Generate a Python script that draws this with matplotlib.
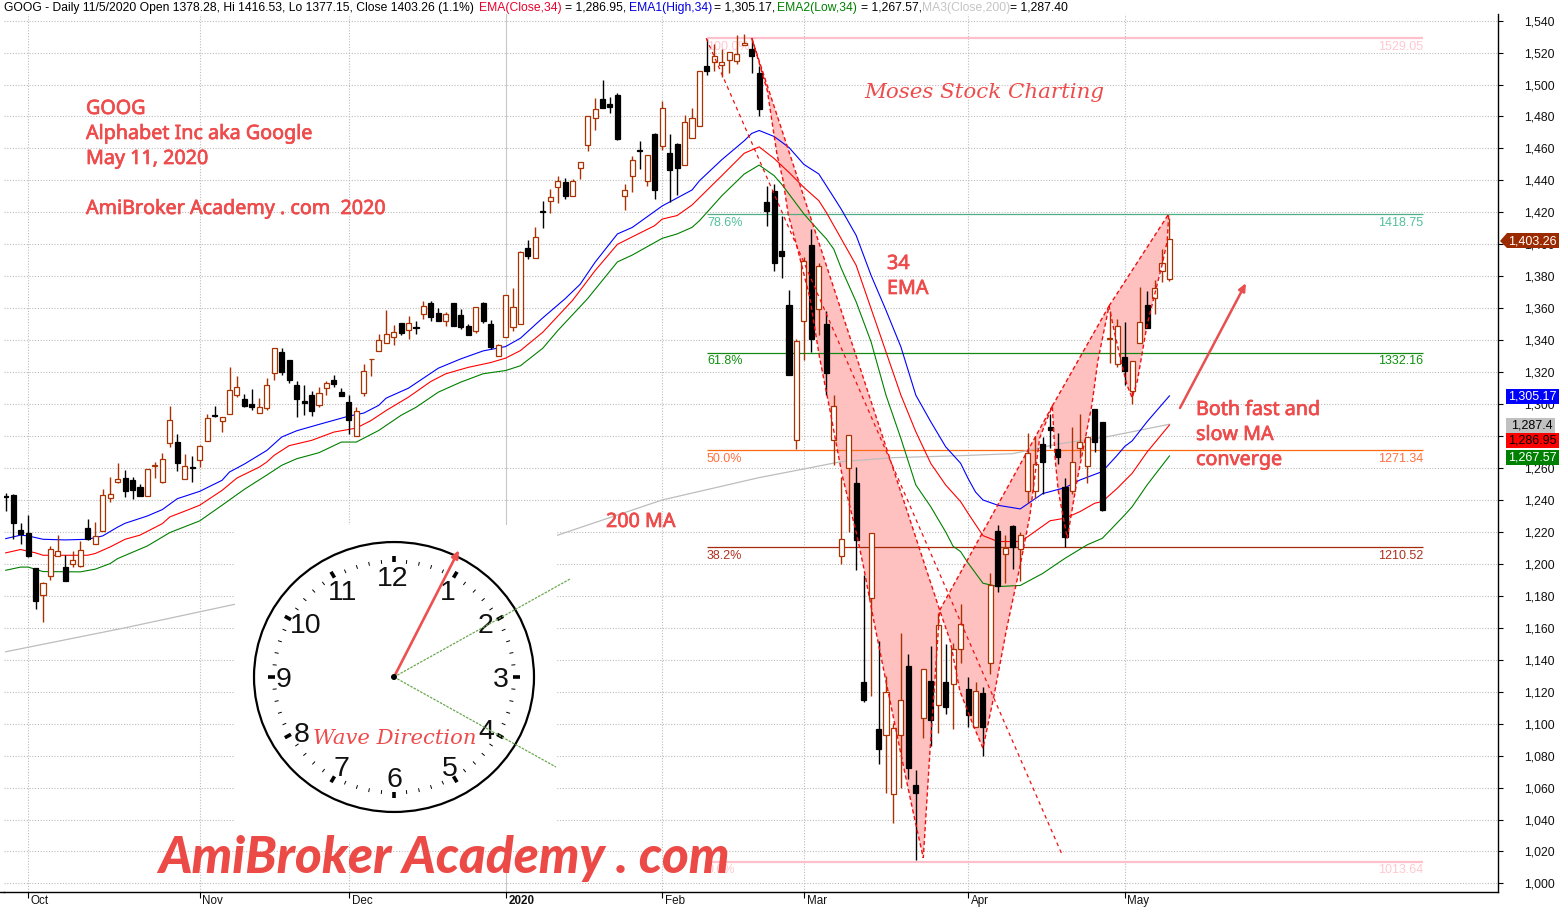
import numpy as np
import matplotlib
matplotlib.use("Agg")
import matplotlib.pyplot as plt
import matplotlib.patheffects as pe
from matplotlib.patches import Circle, Ellipse, Rectangle, Polygon

W, H = 1559, 908

# daily bars, bar 0 is the last days of Sep 2019
opens = [1242.5, 1243.3, 1221.5, 1219.6, 1197.7, 1180.4, 1192.5, 1205, 1198.3, 1200, 1198.5, 1222.5, 1212.5, 1220.6, 1241.3, 1251,
         1253.8, 1252.5, 1248.1, 1242.5, 1261, 1251, 1275.6, 1276.3, 1253, 1260.8, 1265, 1276.9, 1293, 1289.4, 1294, 1305.4,
         1303.3, 1300, 1294.4, 1297.5, 1319.4, 1332.5, 1327.7, 1311.9, 1302, 1305.6, 1299.2, 1310, 1315, 1307.5, 1301.3, 1280,
         1306.7, 1328, 1333.5, 1338, 1341.9, 1350.6, 1346.25, 1348.1, 1356.25, 1363.3, 1356.9, 1351.9, 1363, 1355.8, 1348.75, 1346,
         1363, 1350.2, 1329.8, 1341.7, 1348.1, 1350, 1398, 1391.7, 1420.6, 1427.3, 1436, 1438.75, 1430, 1447.5, 1462.3, 1478.75,
         1490.8, 1487.7, 1493.3, 1430.4, 1443, 1458.75, 1439.8, 1469, 1461.7, 1457, 1462.7, 1449.8, 1466.7, 1474, 1511.5, 1514.4,
         1512.3, 1515.6, 1514.8, 1525, 1522, 1507.5, 1426.5, 1433.3, 1396, 1362, 1277.5, 1352, 1399.8, 1359.6, 1350.4, 1277.5,
         1205, 1260, 1250.4, 1126, 1178.75, 1096.5, 1092.9, 1056, 1092.9, 1135.8, 1061.5, 1103.5, 1126.5, 1111.7, 1125.8, 1124.8,
         1146.9, 1122, 1097.9, 1119, 1137.9, 1220.8, 1206.25, 1224, 1209.6, 1245.8, 1245.8, 1274.8, 1285.4, 1271.9, 1248, 1245.8,
         1272.3, 1261.5, 1296.7, 1288.5, 1341, 1325.2, 1329.2, 1308.3, 1338.3, 1362.3, 1366.5, 1383.3, 1378.28]
highs = [1244.6, 1243.8, 1225.8, 1230.8, 1197.7, 1188.8, 1211.3, 1218.3, 1205.4, 1208.3, 1214.6, 1228.3, 1226.3, 1247, 1254.6, 1263.3,
         1259, 1254.6, 1250, 1259.4, 1263.8, 1269.6, 1299, 1281.5, 1269, 1267.7, 1274.6, 1293.8, 1299, 1291.7, 1323.3, 1317.5,
         1306.5, 1309.6, 1304, 1316.3, 1335, 1335.2, 1327.7, 1314.4, 1312, 1308, 1310.6, 1314.4, 1318.3, 1310.2, 1305.6, 1298,
         1325.2, 1328.3, 1343.75, 1359, 1349.6, 1350.6, 1355, 1352.3, 1364.6, 1364.6, 1360, 1357.5, 1363, 1359.6, 1350, 1360.6,
         1363.75, 1352.7, 1337.5, 1368, 1372.6, 1396, 1402.5, 1410.6, 1427, 1434.4, 1443, 1441.5, 1440.6, 1451.25, 1480, 1491.5,
         1502.7, 1492.5, 1494.4, 1437.5, 1455, 1464.4, 1455.6, 1469.6, 1489.4, 1469, 1463.3, 1481.25, 1485.2, 1508.3, 1528.3, 1525.4,
         1522.5, 1520.6, 1530.8, 1531.5, 1528.3, 1511.7, 1436.5, 1437.7, 1418, 1371.7, 1341, 1392, 1409.8, 1388, 1358.3, 1306,
         1254.6, 1280.8, 1260.8, 1193.3, 1219.4, 1151.5, 1129.8, 1100.6, 1157, 1143.3, 1070.8, 1134.4, 1148.3, 1169.4, 1150, 1150.6,
         1174.6, 1129.2, 1126.25, 1122.9, 1194, 1224.6, 1218.3, 1224.6, 1220, 1282, 1280, 1279.4, 1294, 1281.7, 1254, 1285.4,
         1293.5, 1279.6, 1296.7, 1288.5, 1358, 1353, 1351.5, 1327, 1373.5, 1371, 1377.5, 1397.3, 1416.53]
lows = [1233, 1215.4, 1212.7, 1204, 1172, 1163.8, 1189.8, 1205, 1189, 1198, 1198, 1214.8, 1212.5, 1220.6, 1239, 1250.6,
        1241.7, 1240.8, 1242.3, 1242.5, 1254, 1250.4, 1273, 1258, 1253, 1251.5, 1260.8, 1276.9, 1292, 1282.7, 1294, 1304.6,
        1298, 1296.5, 1294.4, 1296, 1314.8, 1318, 1313.3, 1291.7, 1293.3, 1292.3, 1298.5, 1305.4, 1310.4, 1304.8, 1281.5, 1280,
        1305.2, 1317.3, 1333.5, 1338, 1336.7, 1343, 1340.8, 1344, 1353, 1351.7, 1351.7, 1349, 1349, 1347.3, 1343.5, 1344.8,
        1350.8, 1334.4, 1329.8, 1341.7, 1346, 1350, 1390.8, 1391.7, 1410.4, 1419.4, 1426, 1428.3, 1430, 1440.8, 1458.5, 1471.7,
        1485.4, 1482, 1465.4, 1421.7, 1432.9, 1447, 1436.7, 1428.3, 1459.2, 1426.7, 1430.8, 1449.8, 1466.7, 1474, 1505.8, 1508.5,
        1505, 1507.3, 1513, 1525, 1507.5, 1480.4, 1411.5, 1383, 1379, 1318, 1272, 1327.5, 1332.7, 1343.5, 1305.6, 1262,
        1200, 1220, 1196, 1113.5, 1117.3, 1074.6, 1056.5, 1037.7, 1060, 1065.6, 1014.8, 1091, 1086, 1094.2, 1105.8, 1096.5,
        1138, 1097.7, 1097.9, 1080, 1130.8, 1182.3, 1188, 1196.5, 1189, 1237.9, 1241, 1243.75, 1272.3, 1262.3, 1210.8, 1243.75,
        1266, 1250.4, 1269.8, 1233.1, 1326, 1323, 1311.9, 1300, 1338.3, 1347.5, 1356.25, 1376.5, 1377.15]
closes = [1242, 1225.4, 1219, 1205.2, 1176.7, 1188.3, 1209.4, 1208, 1189.2, 1202.5, 1208.5, 1215.4, 1217.3, 1243, 1243.8, 1253.1,
          1245.4, 1246, 1242.7, 1259.4, 1261.6, 1265.6, 1290, 1262.9, 1261, 1260, 1274, 1291.3, 1292.3, 1291.7, 1308.8, 1311,
          1299, 1298.5, 1298, 1311.9, 1335, 1320.4, 1315.2, 1302.9, 1301, 1295.4, 1306.7, 1313.5, 1312.7, 1304.8, 1289.8, 1295.4,
          1320.6, 1328.3, 1340.4, 1343.75, 1345, 1344.8, 1350.6, 1347.7, 1361.25, 1354.8, 1352.3, 1356.25, 1349, 1348.5, 1343.5, 1360.6,
          1351.9, 1335.6, 1336.7, 1368, 1360.6, 1395, 1392.9, 1404.4, 1420, 1429.4, 1439.4, 1430.4, 1439.4, 1451.25, 1480, 1484.4,
          1485.4, 1486, 1465.8, 1433.75, 1452.5, 1458.3, 1455.6, 1434, 1485.6, 1446.5, 1447.7, 1476.25, 1478.75, 1508.3, 1508.3, 1518,
          1514.4, 1520.6, 1519.4, 1526.25, 1518, 1484.8, 1421, 1388, 1393, 1318, 1339.6, 1389.6, 1341, 1386.5, 1319.2, 1299,
          1215.8, 1280.8, 1215, 1114.6, 1219.4, 1084, 1120, 1097, 1115, 1072, 1056.5, 1134.4, 1102.3, 1161.9, 1110.2, 1146.9,
          1162.5, 1105.2, 1120.6, 1097.9, 1186.9, 1186, 1210, 1210.8, 1218, 1269.6, 1262.7, 1263.75, 1283.75, 1266.9, 1216.9, 1264,
          1276.5, 1279.6, 1276.25, 1233.75, 1341.5, 1349, 1320.6, 1327, 1351.5, 1347.5, 1372.7, 1388.3, 1403.26]

blue_x = [0, 2, 3, 5, 8, 11, 13, 15, 16, 19, 21, 23, 26, 29, 30, 32, 35, 37, 39, 42, 46, 48, 50, 51, 54, 56, 58, 61, 64, 67, 69, 72,
          75, 77, 79, 82, 84, 88, 90, 92, 93, 96, 99, 100, 101, 103, 105, 107, 109, 111, 112, 114, 116, 118, 120, 122, 124, 126,
          128, 129, 130, 131, 133, 136, 139, 142, 144, 147, 149, 150, 151, 153, 156]
blue_y = [1215.8, 1218, 1217.5, 1215.4, 1215, 1215.4, 1217.5, 1223, 1225.4, 1230, 1234, 1240.8, 1245.4, 1252.3, 1257.5, 1262.5,
          1271, 1279.4, 1283.3, 1287.3, 1292.5, 1294.4, 1299.2, 1303.75, 1310, 1316.25, 1322.5, 1328.3, 1333.3, 1336, 1341.25, 1354,
          1366, 1375, 1388.75, 1406.5, 1410.6, 1424, 1429, 1434, 1439.8, 1453, 1464.8, 1469.4, 1471.25, 1467.5, 1460.6, 1450, 1444,
          1429.4, 1422, 1405.6, 1380.6, 1358.75, 1335.8, 1305.6, 1289, 1273.3, 1263, 1253.5, 1245, 1240, 1236.7, 1234.4, 1244,
          1247.7, 1252.5, 1257.8, 1268, 1273.5, 1277, 1289, 1305.17]
red_x = [0, 2, 4, 5, 11, 12, 14, 16, 18, 21, 22, 24, 26, 29, 31, 34, 35, 36, 38, 41, 44, 47, 49, 51, 54, 57, 59, 62, 65, 67, 69, 72,
         76, 79, 82, 87, 88, 90, 92, 96, 99, 101, 103, 105, 107, 109, 110, 112, 114, 116, 118, 120, 122, 124, 126, 128, 129, 131,
         133, 136, 137, 140, 142, 144, 146, 147, 149, 151, 153, 156]
red_y = [1206.9, 1209, 1206.9, 1205.4, 1205.4, 1206.5, 1210.6, 1215.4, 1218, 1225.2, 1229.4, 1233, 1236.7, 1246, 1253.75, 1260.6,
         1263.75, 1268, 1274, 1277.3, 1282.5, 1285, 1289.8, 1296, 1304.4, 1314.2, 1319, 1323, 1326, 1328.75, 1333.5, 1345, 1365,
         1383.5, 1400, 1411.7, 1415.8, 1418, 1424.6, 1443, 1457, 1461, 1453.75, 1445, 1435.6, 1427.3, 1420, 1403.5, 1386.9, 1359.8,
         1332.7, 1305.6, 1282.7, 1262.9, 1249.4, 1239, 1231.7, 1217.7, 1214, 1214, 1217, 1227, 1228.6, 1232.7, 1238, 1239, 1247.3,
         1256.7, 1270, 1286.95]
green_x = [0, 2, 3, 5, 10, 12, 14, 15, 19, 22, 26, 29, 32, 35, 37, 39, 42, 45, 47, 50, 53, 55, 58, 61, 64, 67, 69, 72, 74, 78, 82,
           84, 88, 90, 92, 93, 96, 99, 101, 103, 104, 105, 107, 109, 110, 111, 112, 114, 116, 118, 120, 122, 124, 126, 127, 128,
           129, 131, 133, 136, 139, 142, 145, 147, 150, 151, 153, 156]
green_y = [1196, 1198, 1198, 1195.2, 1195, 1196.7, 1200.2, 1203.3, 1211.25, 1219.6, 1226.9, 1236.7, 1246.7, 1255.6, 1261.7, 1265.8,
           1269.6, 1276.25, 1276.25, 1283.5, 1293, 1298, 1307.5, 1313.75, 1319, 1321, 1324, 1335, 1346, 1366, 1389, 1393.3, 1403.75,
           1406.5, 1410.6, 1414.8, 1430.4, 1444, 1449.6, 1443, 1437.7, 1431.5, 1419, 1408.5, 1403.5, 1397, 1385, 1364, 1339, 1305.6,
           1278.5, 1249.4, 1235.8, 1220, 1211, 1207.7, 1200.6, 1187.9, 1185.8, 1186.5, 1194, 1203.5, 1212, 1216, 1230.6, 1235.8,
           1249.4, 1267.57]
ma200_x = [0, 16, 30, 74, 88, 101, 107, 112, 119, 128, 135, 141, 147, 151, 156]
ma200_y = [1145, 1160, 1174, 1218, 1240, 1254, 1259.4, 1264, 1266.5, 1267.7, 1269, 1275, 1279, 1282.7, 1287.4]

# fibonacci levels
fib_labels = ["100.0%", "78.6%", "61.8%", "50.0%", "38.2%", "0.0%"]
fib_values = [1529.05, 1418.75, 1332.16, 1271.34, 1210.52, 1013.64]
fib_colors = ["#ffc0cb", "#4fae84", "#148a14", "#ff6a13", "#a52a0a", "#ffc0cb"]
fib_text_colors = ["#ffc8d0", "#52c09a", "#109010", "#ff7040", "#b03020", "#ffc8d0"]
fib_start, fib_end = 94, 190

# shaded wave legs as (bar, price)
wave_1 = [(100, 1529), (125.2, 1171), (123.9, 1083), (123, 1016), (121.6, 1045.6), (120.1, 1078.8), (117.9, 1128.8), (116.3, 1166),
          (115, 1197.9), (114.1, 1218), (112.1, 1256), (110.5, 1296), (109.1, 1329), (107.8, 1366.5), (106.1, 1398), (104.9, 1418.6),
          (104.2, 1440.3), (103.4, 1456), (102.1, 1496), (100.7, 1518.5)]
wave_2 = [(125.2, 1171), (140.3, 1298.8), (138.6, 1278.8), (137.3, 1230.6), (136, 1199.3), (134.2, 1160), (132.5, 1118), (131, 1084.6),
          (129.7, 1099), (127.9, 1120.5), (126.6, 1152)]
wave_3 = [(140.3, 1298.8), (147.9, 1361.4), (146.4, 1327), (145.6, 1299.4), (143.6, 1252), (142.3, 1216), (141.1, 1245.6), (140.7, 1264.4)]
wave_4 = [(147.9, 1361.4), (155.9, 1419), (155.7, 1402), (155, 1387), (153, 1349.6), (151.7, 1314.6), (151, 1303.9), (150.3, 1312),
          (149.4, 1329), (148.5, 1347.7)]
trend_x = [93.9, 141.7]
trend_y = [1529, 1017]

y_ticks = list(range(1000, 1541, 20))
month_ticks = [3, 26, 46, 67, 88, 107, 129, 150]
month_labels = ["Oct", "Nov", "Dec", "2020", "Feb", "Mar", "Apr", "May"]

UP = "#a83200"
ANNOT = "#ee4c4c"
SANS = "Liberation Sans"

fig = plt.figure(figsize=(W / 100, H / 100), dpi=100, facecolor="white")
ax = fig.add_axes([4 / W, 1 - 892 / H, (1498 - 4) / W, (892 - 14) / H])
ax.set_xlim(-0.228, 200.04)
ax.set_ylim(994.65, 1544.15)
for side in ["left", "top"]:
    ax.spines[side].set_visible(False)
ax.spines["right"].set_linewidth(1.0)
ax.spines["bottom"].set_linewidth(1.0)

# grid
for v in y_ticks:
    ax.axhline(v, color="#bcbcbc", lw=0.8, ls=(0, (1, 1.5)), zorder=1)
for m in month_ticks:
    if m == 67:
        ax.axvline(m, color="#c8c8c8", lw=0.8, zorder=1)
    else:
        ax.axvline(m, color="#bcbcbc", lw=0.8, ls=(0, (1, 1.5)), zorder=1)

ax.yaxis.tick_right()
ax.set_yticks(y_ticks)
ax.set_yticklabels([f"{v:,}" for v in y_ticks], fontsize=8.8, family=SANS, color="#111111")
ax.tick_params(axis="y", direction="out", length=3.6, width=0.8, pad=15.5)
ax.set_xticks(month_ticks)
ax.set_xticklabels([])
ax.tick_params(axis="x", direction="out", length=4, width=0.8)
for m, lab in zip(month_ticks, month_labels):
    ax.annotate(lab, xy=(m, 0), xycoords=("data", "axes fraction"), xytext=(2, -2), textcoords="offset points",
                ha="left", va="top", fontsize=8.4, family=SANS, color="#111111",
                fontweight="bold" if lab == "2020" else "normal")

# shaded legs
for leg in [wave_1, wave_2, wave_3, wave_4]:
    ax.add_patch(Polygon(leg, closed=True, facecolor="#ffc0c0", edgecolor="none", zorder=2))
    ax.add_patch(Polygon(leg, closed=True, facecolor="none", edgecolor="#f01010", lw=1.0, ls=(0, (3, 2)), zorder=8))
ax.plot(trend_x, trend_y, color="#f01010", lw=0.9, ls=(0, (3, 3)), zorder=8)

# fib levels
for lab, val, col, tcol in zip(fib_labels, fib_values, fib_colors, fib_text_colors):
    lw = 1.6 if lab in ("100.0%", "0.0%") else 0.9
    ax.hlines(val, fib_start, fib_end, color=col, lw=lw, zorder=3)
    ax.annotate(lab, xy=(fib_start, val), xytext=(0, -2), textcoords="offset points", ha="left", va="top",
                fontsize=9, family=SANS, color=tcol, zorder=3)
    ax.annotate(f"{val:.2f}", xy=(fib_end, val), xytext=(0, -2), textcoords="offset points", ha="right", va="top",
                fontsize=9, family=SANS, color=tcol, zorder=3)

# averages
ax.plot(ma200_x, ma200_y, color="#bdbdbd", lw=0.9, zorder=4)
ax.plot(blue_x, blue_y, color="#0000ff", lw=0.8, zorder=4)
ax.plot(red_x, red_y, color="#ff0000", lw=0.8, zorder=4)
ax.plot(green_x, green_y, color="#008000", lw=0.8, zorder=4)

# candles
o = np.array(opens)
c = np.array(closes)
bars = np.arange(len(o))
up = c >= o
ax.vlines(bars[up], np.array(lows)[up], np.array(highs)[up], color=UP, lw=1.0, zorder=5)
ax.vlines(bars[~up], np.array(lows)[~up], np.array(highs)[~up], color="black", lw=1.0, zorder=5)
ax.bar(bars[up], (c - o)[up], bottom=o[up], width=0.68, facecolor="white", edgecolor=UP, lw=0.9, zorder=6)
ax.bar(bars[~up], (o - c)[~up], bottom=c[~up], width=0.68, facecolor="black", edgecolor="black", lw=0.9, zorder=6)

# overlay in pixel coordinates for the pasted bits
ov = fig.add_axes([0, 0, 1, 1], facecolor="none")
ov.set_xlim(0, W)
ov.set_ylim(H, 0)
ov.axis("off")
ov.plot([0, 4], [892, 892], color="black", lw=1.0)

# title pieces
title_parts = [(4, "GOOG - Daily 11/5/2020 Open 1378.28, Hi 1416.53, Lo 1377.15, Close 1403.26 (1.1%)", "black"),
               (479, "EMA(Close,34)", "#e8002a"), (565, "= 1,286.95,", "black"),
               (629, "EMA1(High,34)", "#0000e0"), (714, "= 1,305.17,", "black"),
               (777, "EMA2(Low,34)", "#008000"), (861, "= 1,267.57,", "black"),
               (922, "MA3(Close,200)", "#c4c4c4"), (1010, "= 1,287.40", "black")]
for x, s, col in title_parts:
    ov.text(x, 7.5, s, color=col, fontsize=8.75, family=SANS, va="center", ha="left")

# white box behind the clock
ov.add_patch(Rectangle((235, 525), 322, 317, facecolor="white", edgecolor="none", zorder=1))
cx, cy, rad, squash = 394, 677, 140, 0.964
ov.add_patch(Ellipse((cx, cy), 2 * rad, 2 * rad * squash, facecolor="white", edgecolor="black", lw=1.6, zorder=2))
for k in range(60):
    a = np.deg2rad(k * 6)
    r0, r1, lw = (119, 126, 2.6) if k % 5 == 0 else (118, 122, 0.7)
    ov.plot([cx + r0 * np.sin(a), cx + r1 * np.sin(a)], [cy - r0 * squash * np.cos(a), cy - r1 * squash * np.cos(a)],
            color="black", lw=lw, zorder=3, solid_capstyle="butt")
clock_nums = ["12", "1", "2", "3", "4", "5", "6", "7", "8", "9", "10", "11"]
clock_pos = [(393, 579), (448, 593), (486, 626), (501, 680), (486, 732), (450, 769), (394, 780), (341, 769), (302, 735), (284, 680),
             (306, 626), (343, 593)]
for s, (x, y) in zip(clock_nums, clock_pos):
    ov.text(x, y, s, fontsize=20.5, family=SANS, ha="center", va="center", color="#111111", zorder=3)
ov.plot([cx, 570], [cy, 579], color="#6aa84f", lw=0.9, ls=(0, (2, 1)), zorder=4)
ov.plot([cx, 556], [cy, 767], color="#6aa84f", lw=0.9, ls=(0, (2, 1)), zorder=4)
ov.annotate("", xy=(459, 550), xytext=(cx, cy), zorder=5,
            arrowprops=dict(arrowstyle="-|>,head_width=0.2,head_length=0.45", color="#ee5050", lw=1.9, shrinkA=0, shrinkB=0))
ov.add_patch(Circle((cx, cy), 3, facecolor="black", edgecolor="none", zorder=6))

# notes, thin stroke because the face has no usable medium weight
note = dict(color=ANNOT, family="Noto Sans", fontsize=14.2, va="center", ha="left", zorder=7,
            path_effects=[pe.withStroke(linewidth=0.5, foreground=ANNOT)])
ov.text(86, 109, "GOOG", **note)
ov.text(86, 134, "Alphabet Inc aka Google", **note)
ov.text(86, 159, "May 11, 2020", **note)
ov.text(86, 209, "AmiBroker Academy . com  2020", **note)
ov.text(887, 264, "34", **note)
ov.text(887, 289, "EMA", **note)
ov.text(606, 522, "200 MA", **note)
ov.text(1196, 410, "Both fast and", **note)
ov.text(1196, 435, "slow MA", **note)
ov.text(1196, 460, "converge", **note)
ov.annotate("", xy=(1246, 283), xytext=(1180, 408), zorder=7,
            arrowprops=dict(arrowstyle="-|>,head_width=0.2,head_length=0.45", color="#e85050", lw=1.8, shrinkA=0, shrinkB=0))

# no handwriting faces here, closest slanted ones
ov.text(864, 92, "Moses Stock Charting", color=ANNOT, family="DejaVu Serif", style="italic", fontsize=15.4, va="center", ha="left", zorder=7)
ov.text(313, 739, "Wave Direction", color=ANNOT, family="DejaVu Serif", style="italic", fontsize=15.2, va="center", ha="left", zorder=7)
ov.text(158, 858, "AmiBroker Academy . com", color="#ec4a46", family="Lato", style="italic", fontweight="black",
        fontsize=36.8, va="center", ha="left", zorder=7)

# price tags on the scale
tags = [("1,305.17", 1506, 389, 53, "#0000ff", "white"), ("1,287.4", 1506, 418, 49, "#c0c0c0", "black"),
        ("1,286.95", 1506, 433, 53, "#ff0000", "black"), ("1,267.57", 1506, 450, 53, "#008000", "white")]
for s, x, y, w, col, tc in tags:
    ov.add_patch(Rectangle((x, y), w, 15, facecolor=col, edgecolor="none", zorder=8))
    ov.text(x + w - 2, y + 7.5, s, color=tc, fontsize=9, family=SANS, ha="right", va="center", zorder=9)
ov.add_patch(Polygon([(1500, 241), (1507, 233), (1559, 233), (1559, 248), (1507, 248)], closed=True, facecolor="#9c2a00", edgecolor="none", zorder=8))
ov.text(1557, 241, "1,403.26", color="white", fontsize=9, family=SANS, ha="right", va="center", zorder=9)

fig.savefig("out.png", dpi=100)
